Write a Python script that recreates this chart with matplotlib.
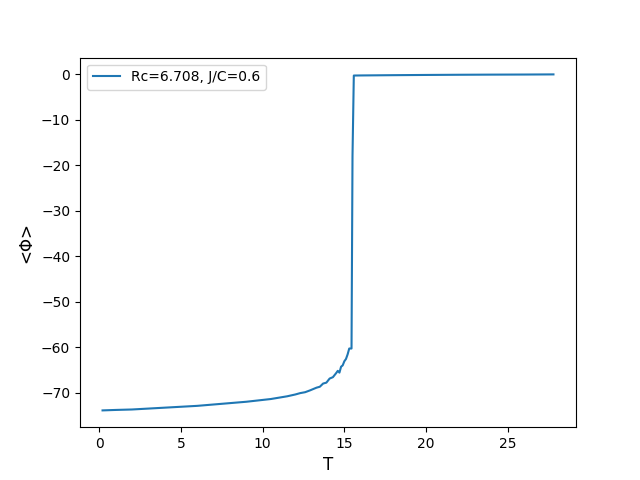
import matplotlib
matplotlib.use("Agg")
import matplotlib.pyplot as plt

# temperature and order parameter
T = [0.2, 1, 2, 3, 4, 5, 6, 7, 8, 9, 10, 10.5, 11, 11.5, 12, 12.3, 12.6,
     12.9, 13.1, 13.3, 13.5, 13.7, 13.9, 14.1, 14.3, 14.5, 14.6, 14.7, 14.8,
     14.9, 15.0, 15.1, 15.2, 15.3, 15.44, 15.5, 15.58, 16, 18, 20, 22, 24,
     26, 27.8]
phi = [-73.9, -73.8, -73.7, -73.5, -73.3, -73.1, -72.9, -72.6, -72.3, -72.0,
       -71.6, -71.4, -71.1, -70.8, -70.4, -70.1, -69.9, -69.5, -69.2, -68.9,
       -68.7, -68.0, -67.8, -66.9, -66.6, -65.7, -65.2, -65.6, -64.3, -64.0,
       -63.1, -62.6, -61.6, -60.3, -60.3, -18.0, -0.3, -0.28, -0.22, -0.17,
       -0.13, -0.1, -0.08, -0.05]

label = "Rc=6.708, J/C=0.6"

fig, ax = plt.subplots(figsize=(6.4, 4.8), dpi=100)
ax.plot(T, phi, label=label)
ax.set_xlabel("T", fontsize=12)
ax.set_ylabel("<Φ>", fontsize=12)
ax.legend(loc="upper left")
fig.savefig("out.png")
